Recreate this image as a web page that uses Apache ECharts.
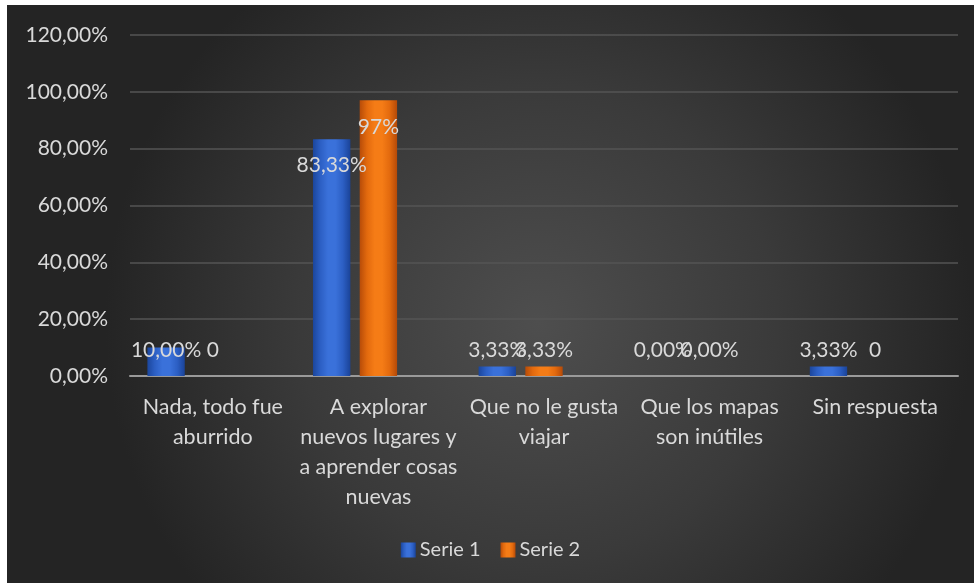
<!DOCTYPE html>
<html>
<head>
<meta charset="utf-8">
<script src="https://cdn.jsdelivr.net/npm/echarts@6/dist/echarts.min.js"></script>
<style>
  html, body { margin: 0; padding: 0; background: #ffffff; width: 974px; height: 583px; overflow: hidden; }
  #chart { position: absolute; left: 7px; top: 5px; width: 967px; height: 578px; }
</style>
</head>
<body>
<div id="chart"></div>
<script>
// Answer categories
const categories = [
  'Nada, todo fue\naburrido',
  'A explorar\nnuevos lugares y\na aprender cosas\nnuevas',
  'Que no le gusta\nviajar',
  'Que los mapas\nson inútiles',
  'Sin respuesta'
];
// Percentages per series
const serie1 = [10.00, 83.33, 3.33, 0.00, 3.33];
const serie2 = [0, 97, 3.33, 0.00, 0];
// Empty third series reserved in the cluster
const serie3 = [null, null, null, null, null];
// Label format per point: number of decimals, or 'raw' for a plain number
const serie1Fmt = [2, 2, 2, 2, 2];
const serie2Fmt = ['raw', 0, 2, 2, 'raw'];
const yTicks = { min: 0, max: 120, interval: 20 };

const FONT = 'Lato';
const TEXT = '#d9d9d9';

function fmt(v, spec) {
  if (spec === 'raw') return String(v);
  return v.toFixed(spec).replace('.', ',') + '%';
}

function hGrad(stops) {
  return new echarts.graphic.LinearGradient(0, 0, 1, 0,
    stops.map((c, i) => ({ offset: i / (stops.length - 1), color: c })));
}
const blueFill = hGrad(['#1b469c', '#2c5fc4', '#3a71da', '#3a71da', '#2c5fc4', '#1a4398']);
const orangeFill = hGrad(['#b84c08', '#e36a0e', '#f57c16', '#f57c16', '#e36a0e', '#b54a08']);

function buildData(values, fmts) {
  return values.map((v, i) => {
    const big = v >= 20;
    return {
      value: v,
      label: {
        show: true,
        formatter: fmt(v, fmts[i]),
        position: big ? 'insideTop' : 'insideBottom',
        distance: big ? 16 : 15
      }
    };
  });
}

const labelStyle = { color: TEXT, fontFamily: FONT, fontSize: 21 };

const chart = echarts.init(document.getElementById('chart'));
chart.setOption({
  backgroundColor: new echarts.graphic.RadialGradient(0.55, 0.55, 0.75, [
    { offset: 0, color: '#4e4e4e' },
    { offset: 0.55, color: '#3a3a3a' },
    { offset: 1, color: '#242424' }
  ]),
  animation: false,
  grid: { left: 123, right: 16, top: 30, bottom: 207 },
  legend: {
    data: ['Serie 1', 'Serie 2'],
    top: 530,
    left: 'center',
    itemWidth: 15,
    itemHeight: 15,
    itemGap: 20,
    icon: 'rect',
    textStyle: { color: TEXT, fontFamily: FONT, fontSize: 20, padding: [0, 0, 0, -1] }
  },
  xAxis: {
    type: 'category',
    data: categories,
    axisLine: { lineStyle: { color: '#9a9a9a', width: 2 } },
    axisTick: { show: false },
    axisLabel: {
      color: TEXT, fontFamily: FONT, fontSize: 21.5, lineHeight: 30,
      margin: 16, interval: 0
    }
  },
  yAxis: {
    type: 'value',
    min: yTicks.min, max: yTicks.max, interval: yTicks.interval,
    axisLine: { show: false },
    axisTick: { show: false },
    splitLine: { lineStyle: { color: '#555555', width: 1.5 } },
    axisLabel: {
      color: TEXT, fontFamily: FONT, fontSize: 21, margin: 22,
      formatter: v => v.toFixed(2).replace('.', ',') + '%'
    }
  },
  series: [
    {
      name: 'Serie 1', type: 'bar', data: buildData(serie1, serie1Fmt),
      barGap: '25%', barCategoryGap: '21%',
      itemStyle: { color: blueFill },
      label: labelStyle
    },
    {
      name: 'Serie 2', type: 'bar', data: buildData(serie2, serie2Fmt),
      itemStyle: { color: orangeFill },
      label: labelStyle
    },
    {
      name: 'Serie 3', type: 'bar', data: serie3,
      itemStyle: { color: '#a5a5a5' }
    }
  ]
});
</script>
</body>
</html>
